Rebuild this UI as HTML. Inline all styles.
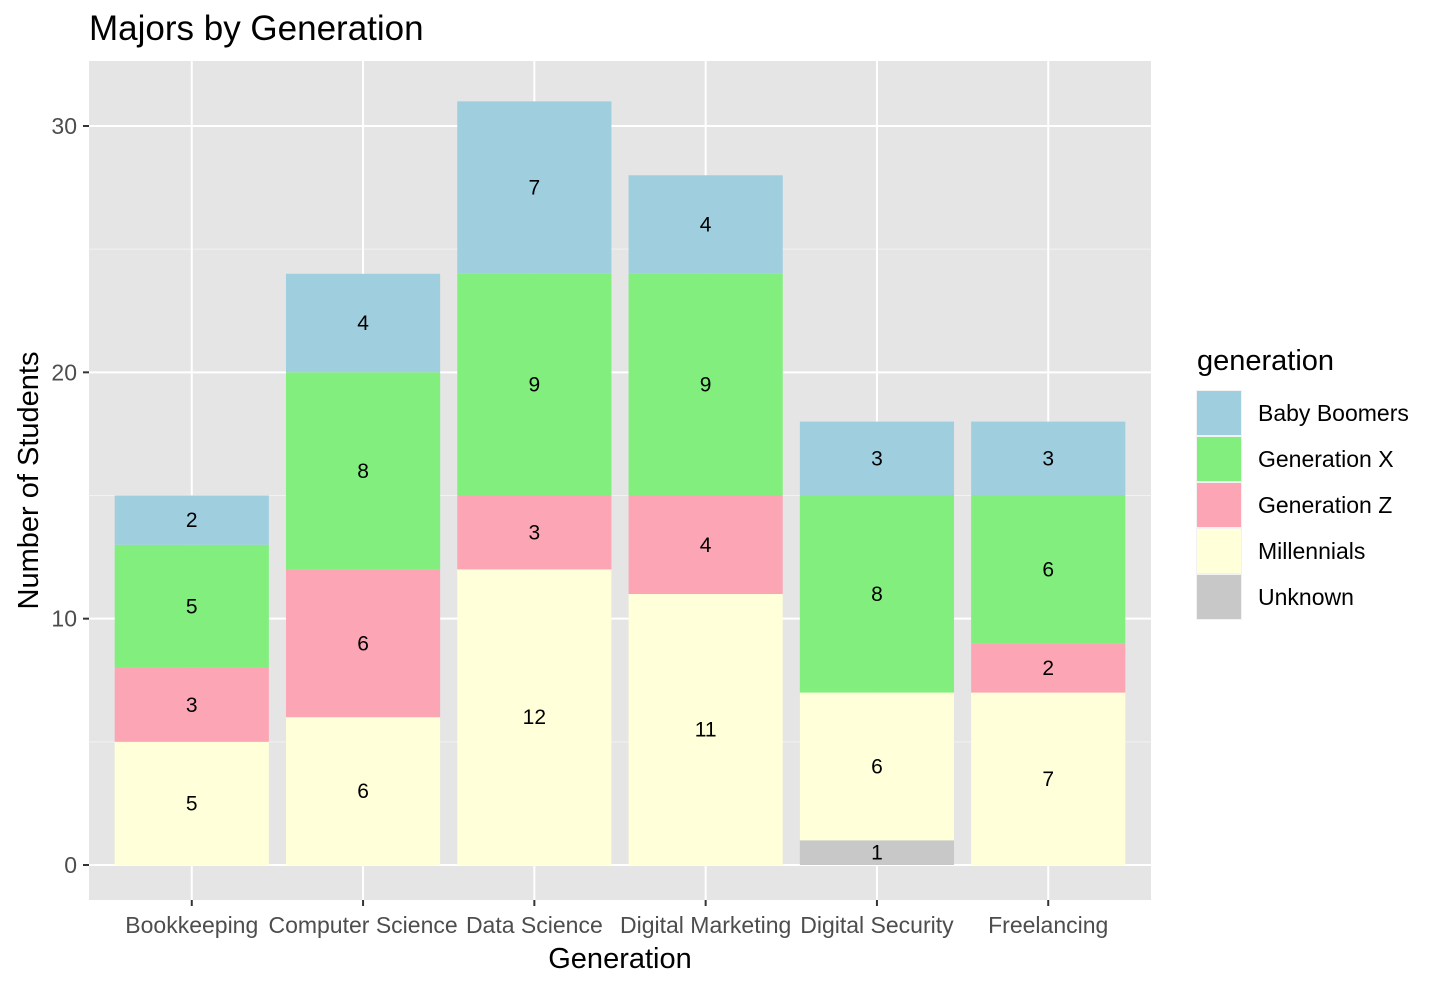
<!DOCTYPE html>
<html><head><meta charset="utf-8"><style>
body{margin:0;background:#fff;}
svg{display:block;font-family:"Liberation Sans",Arial,sans-serif;}
</style></head><body>
<svg id="chart" width="1440" height="988" viewBox="0 0 1440 988"></svg>
<script>
const categories=["Bookkeeping","Computer Science","Data Science","Digital Marketing","Digital Security","Freelancing"];
const seriesNames=["Unknown","Millennials","Generation Z","Generation X","Baby Boomers"];
const unknownVals=[0,0,0,0,1,0];
const millennialVals=[5,6,12,11,6,7];
const genZVals=[3,6,3,4,0,2];
const genXVals=[5,8,9,9,8,6];
const boomerVals=[2,4,7,4,3,3];
const yTicks=[0,10,20,30];
const legendOrder=["Baby Boomers","Generation X","Generation Z","Millennials","Unknown"];

const colors={"Unknown":"#C8C8C8","Millennials":"#FFFFDA","Generation Z":"#FCA6B5","Generation X":"#81EE7E","Baby Boomers":"#9FCEDF"};
const series=[unknownVals,millennialVals,genZVals,genXVals,boomerVals];
const svg=document.getElementById('chart');
const NS="http://www.w3.org/2000/svg";
function mk(t,a,p){const e=document.createElementNS(NS,t);for(const k in a)e.setAttribute(k,a[k]);(p||svg).appendChild(e);return e;}
const PL=89,PR=1151,PT=61,PB=900;
const y0=865,yPer=(865-126)/30;
const yS=v=>y0-v*yPer;
const step=(PR-PL)/6.2;
const xS=i=>PL+step*(0.6+i);
const bw=step*0.9;

const panel=mk('rect',{x:PL,y:PT,width:PR-PL,height:PB-PT,fill:'#E5E5E5'});


for(let i=0;i<yTicks.length-1;i++){const v=(yTicks[i]+yTicks[i+1])/2;mk('line',{x1:PL,x2:PR,y1:yS(v),y2:yS(v),stroke:'#F2F2F2','stroke-width':1});}
yTicks.forEach(v=>{const l=mk('line',{x1:PL,x2:PR,y1:yS(v),y2:yS(v),stroke:'#fff','stroke-width':2});

});
categories.forEach((c,i)=>{const l=mk('line',{x1:xS(i),x2:xS(i),y1:PT,y2:PB,stroke:'#fff','stroke-width':2});

});
categories.forEach((c,i)=>{let cum=0;series.forEach((arr,s)=>{const v=arr[i];if(!v)return;
const r=mk('rect',{x:xS(i)-bw/2,y:yS(cum+v),width:bw,height:v*yPer,fill:colors[seriesNames[s]]});


const t=mk('text',{x:xS(i),y:yS(cum+v/2)+7,'text-anchor':'middle','font-size':21,fill:'#000'});t.textContent=v;


cum+=v;});});
yTicks.forEach(v=>{mk('line',{x1:PL-6,x2:PL,y1:yS(v),y2:yS(v),stroke:'#333','stroke-width':2});
const t=mk('text',{x:PL-12,y:yS(v)+8,'text-anchor':'end','font-size':23,fill:'#4D4D4D'});t.textContent=v;

});
categories.forEach((c,i)=>{mk('line',{x1:xS(i),x2:xS(i),y1:PB,y2:PB+6,stroke:'#333','stroke-width':2});
const t=mk('text',{x:xS(i),y:PB+33,'text-anchor':'middle','font-size':23,fill:'#4D4D4D'});t.textContent=c;

});
let t=mk('text',{x:(PL+PR)/2,y:968,'text-anchor':'middle','font-size':29,fill:'#000'});t.textContent='Generation';


t=mk('text',{x:0,y:0,'text-anchor':'middle','font-size':29,fill:'#000',transform:'translate(38,'+(PT+PB)/2+') rotate(-90)'});t.textContent='Number of Students';


t=mk('text',{x:89,y:40,'font-size':35,fill:'#000'});t.textContent='Majors by Generation';


t=mk('text',{x:1197,y:370,'font-size':29,fill:'#000'});t.textContent='generation';


legendOrder.forEach((n,k)=>{const y=390+k*46;
const g=mk('g',{});


mk('rect',{x:1196,y:y,width:46,height:46,fill:'#F2F2F2'},g);
mk('rect',{x:1197,y:y+1,width:44,height:44,fill:colors[n]},g);
const tt=mk('text',{x:1258,y:y+31,'font-size':23,fill:'#000'},g);tt.textContent=n;});
</script>
</body></html>
